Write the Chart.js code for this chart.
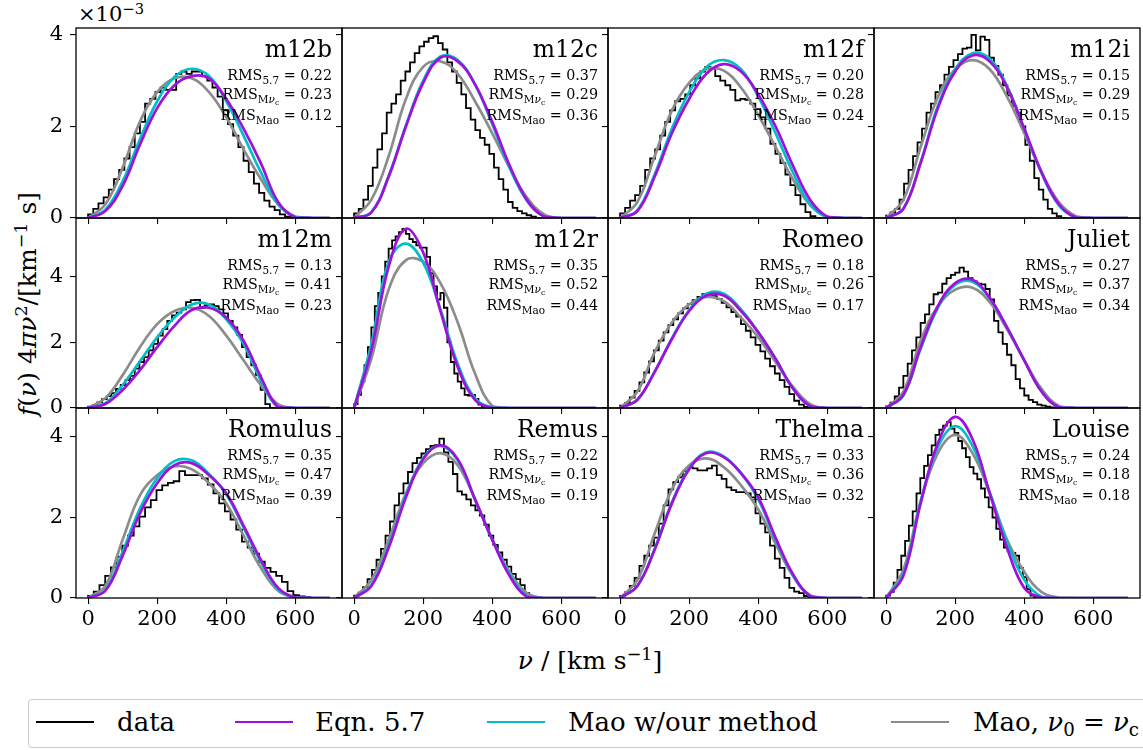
<!DOCTYPE html>
<html>
<head>
<meta charset="utf-8">
<title>velocity distributions</title>
<script src="https://cdn.jsdelivr.net/npm/chart.js@4.4.1/dist/chart.umd.min.js"></script>
<style>
  html, body { margin: 0; padding: 0; background: #fff; }
  body { width: 1143px; height: 750px; position: relative; overflow: hidden; font-family: 'DejaVu Serif', serif; color: #000; }
  canvas { position: absolute; }
  .nm { position: absolute; font-size: 23.5px; line-height: 23.5px; white-space: nowrap; }
  .rms { position: absolute; font-size: 14.3px; line-height: 18px; white-space: nowrap; text-align: right; }
  .sb { font-size: 10.5px; position: relative; top: 3.5px; }
  .ssb { font-size: 7.5px; position: relative; top: 2px; }
  sup { font-size: 70%; position: relative; top: -0.5em; vertical-align: baseline; line-height: 0; }
  sub { font-size: 70%; position: relative; top: 0.25em; vertical-align: baseline; line-height: 0; }
  #ylab { position: absolute; left: 27px; top: 304px; font-size: 25px; line-height: 1; white-space: nowrap; transform: translate(-50%, -50%) rotate(-90deg); }
  #xlab { position: absolute; left: 590px; top: 660px; font-size: 25px; line-height: 1; white-space: nowrap; transform: translate(-50%, -50%); }
  #offs { position: absolute; left: 78px; top: 4px; font-size: 21px; line-height: 21px; white-space: nowrap; }
  #leg { position: absolute; left: 28px; top: 699px; width: 1130px; height: 49px; border: 1px solid #cccccc; border-radius: 4px; box-sizing: border-box; }
  .lline { position: absolute; height: 3px; width: 58px; top: 721px; }
  .ltxt { position: absolute; top: 709px; font-size: 26px; line-height: 26px; white-space: nowrap; }
</style>
</head>
<body>
<div id="offs">×10<sup>−3</sup></div>
<div id="ylab"><i>f</i>(<i>ν</i>) 4<i>πν</i><sup>2</sup>/[km<sup>−1</sup> s]</div>
<div id="xlab"><i>ν</i> / [km s<sup>−1</sup>]</div>
<div id="leg"></div>
<script>
// --- data ---
const vGrid = [0, 50, 100, 150, 200, 250, 300, 350, 400, 450, 500, 550, 600, 650, 700];
const xTicks = [0, 200, 400, 600];
const yTicks = [0, 2, 4];
const rowYMax = [4.15, 5.78, 4.72];

const names = ['m12b', 'm12c', 'm12f', 'm12i', 'm12m', 'm12r', 'Romeo', 'Juliet', 'Romulus', 'Remus', 'Thelma', 'Louise'];
const rms57 = ['0.22', '0.37', '0.20', '0.15', '0.13', '0.35', '0.18', '0.27', '0.35', '0.22', '0.33', '0.24'];
const rmsMvc = ['0.23', '0.29', '0.28', '0.29', '0.41', '0.52', '0.26', '0.37', '0.47', '0.19', '0.36', '0.18'];
const rmsMao = ['0.12', '0.36', '0.24', '0.15', '0.23', '0.44', '0.17', '0.34', '0.39', '0.19', '0.32', '0.18'];

// histogram bin width (km/s) and heights (x 1e-3) for each halo
const binWidth = [15, 13.5, 14.5, 13, 13.5, 10, 14, 12.5, 16.5, 13, 14, 11];
const histData = [
  [0.02,0.08,0.2,0.32,0.45,0.62,0.85,1.05,1.3,1.55,1.85,2.1,2.5,2.6,2.75,2.85,2.8,2.8,3.15,3.2,3.15,3.2,3.2,3.1,3.0,2.85,2.65,2.35,2.05,1.8,1.55,1.25,1.0,0.75,0.55,0.38,0.25,0.17,0.08,0.03],
  [0.03,0.1,0.2,0.4,0.7,1.1,1.5,1.85,2.3,2.5,2.7,3.0,3.2,3.4,3.6,3.75,3.85,3.93,3.97,3.82,3.68,3.4,3.2,2.95,2.7,2.4,2.15,1.92,1.75,1.6,1.4,1.1,0.85,0.62,0.35,0.22,0.15,0.1,0.06,0.03],
  [0.02,0.1,0.22,0.38,0.5,0.7,1.05,1.3,1.5,1.8,2.1,2.35,2.55,2.6,2.7,2.9,3.05,3.2,3.3,3.28,3.1,3.0,2.9,2.8,2.57,2.6,2.58,2.5,2.38,2.2,1.95,1.62,1.4,1.2,0.95,0.72,0.5,0.3,0.13,0.04],
  [0.01,0.05,0.12,0.2,0.4,0.75,1.05,1.35,1.65,1.95,2.3,2.5,2.75,2.9,3.13,3.3,3.45,3.58,3.7,3.72,4.0,3.66,3.96,3.89,3.5,3.32,3.13,2.9,2.68,2.45,2.3,2.0,1.6,1.25,0.87,0.62,0.4,0.2,0.1,0.04],
  [0.01,0.04,0.08,0.17,0.27,0.36,0.45,0.58,0.7,0.85,0.98,1.2,1.4,1.55,1.75,1.95,2.2,2.4,2.65,2.82,2.9,3.0,3.22,3.28,3.29,3.05,3.12,3.15,3.1,3.0,2.88,2.65,2.45,2.22,1.85,1.55,1.3,1.0,0.55,0.12],
  [0.03,0.12,0.4,0.8,1.3,1.85,2.45,3.1,3.5,4.0,4.45,4.85,5.1,5.22,5.35,5.45,5.3,5.14,5.05,4.95,4.88,4.88,4.6,4.1,3.7,3.3,3.5,3.05,2.0,1.4,1.05,0.8,0.6,0.4,0.38,0.4,0.28,0.1,0.04,0.02],
  [0.02,0.07,0.15,0.32,0.52,0.78,1.08,1.42,1.75,2.05,2.3,2.52,2.7,2.88,3.03,3.16,3.28,3.38,3.46,3.46,3.4,3.32,3.2,3.06,2.92,2.78,2.55,2.35,2.15,1.92,1.72,1.5,1.27,1.05,0.85,0.64,0.42,0.22,0.1,0.03],
  [0.01,0.05,0.16,0.35,0.62,0.98,1.35,1.75,2.15,2.59,2.85,3.15,3.46,3.51,3.78,3.95,4.05,4.12,4.27,4.15,3.95,3.85,3.78,3.76,3.62,3.3,2.65,2.3,1.95,1.62,1.3,0.88,0.6,0.38,0.25,0.18,0.1,0.07,0.04,0.02],
  [0.01,0.05,0.16,0.32,0.55,0.76,1.02,1.3,1.55,1.78,2.02,2.25,2.43,2.68,2.8,2.86,2.9,3.15,3.05,3.05,3.05,2.97,2.82,2.6,2.35,2.15,1.95,1.7,1.4,1.25,1.1,0.9,0.75,0.65,0.55,0.4,0.17,0.07,0.04,0.02],
  [0.01,0.06,0.13,0.27,0.47,0.7,0.95,1.22,1.55,1.9,2.3,2.6,2.85,3.13,3.35,3.48,3.59,3.7,3.78,3.8,3.96,3.62,3.38,3.08,2.65,2.57,2.45,2.3,2.18,2.05,1.82,1.55,1.32,1.13,0.95,0.78,0.6,0.47,0.32,0.12],
  [0.01,0.05,0.14,0.3,0.5,0.8,1.05,1.3,1.5,1.85,2.3,2.7,2.88,3.0,3.15,3.25,3.22,3.17,3.17,3.22,3.29,3.05,2.96,2.75,2.68,2.63,2.63,2.6,2.5,2.1,1.85,1.63,1.3,0.98,0.75,0.5,0.25,0.16,0.12,0.05],
  [0.02,0.06,0.15,0.38,0.7,1.05,1.42,1.8,2.15,2.6,2.98,3.28,3.55,3.79,4.05,4.18,4.28,4.37,4.21,4.1,3.9,3.72,3.5,3.25,3.09,2.95,2.72,2.5,2.25,2.0,1.72,1.45,1.25,1.16,1.12,1.05,0.75,0.52,0.22,0.06]
];

// model curves sampled on vGrid (x 1e-3)
const eqn57 = [
  [0,0.15,0.7,1.6,2.4,2.9,3.1,3.05,2.6,1.95,1.2,0.35,0.01,0,0],
  [0,0.12,0.9,2.0,2.95,3.5,3.42,2.92,2.1,1.15,0.4,0.03,0,0,0],
  [0,0.15,0.9,1.85,2.6,3.15,3.36,3.2,2.7,2.0,1.15,0.4,0.03,0,0],
  [0,0.2,1.2,2.4,3.2,3.55,3.42,2.85,1.95,1.0,0.3,0.01,0,0,0],
  [0,0.12,0.55,1.15,1.85,2.5,2.98,3.05,2.75,2.05,0.95,0.03,0,0,0],
  [0,1.75,4.3,5.45,4.73,2.95,1.25,0.25,0,0,0,0,0,0,0],
  [0,0.25,1.1,2.1,2.95,3.42,3.42,2.95,2.3,1.5,0.6,0.06,0,0,0],
  [0,0.4,1.85,3.1,3.8,3.9,3.35,2.45,1.45,0.5,0.02,0,0,0,0],
  [0,0.18,1.05,2.1,2.85,3.3,3.35,3.05,2.6,1.8,0.95,0.25,0.01,0,0],
  [0,0.3,1.25,2.5,3.45,3.8,3.45,2.45,1.45,0.55,0.03,0,0,0,0],
  [0,0.3,1.2,2.35,3.2,3.6,3.5,3.1,2.5,1.5,0.6,0.05,0,0,0],
  [0,0.55,2.35,3.85,4.5,3.95,2.6,1.25,0.25,0.01,0,0,0,0,0]
];
const maoOurs = [
  [0,0.18,0.8,1.72,2.55,3.08,3.26,3.1,2.55,1.8,1.0,0.3,0.02,0,0],
  [0,0.13,0.92,2.02,3.0,3.53,3.45,2.92,2.05,1.1,0.38,0.03,0,0,0],
  [0,0.17,0.95,1.95,2.75,3.3,3.45,3.25,2.65,1.85,1.0,0.3,0.01,0,0],
  [0,0.2,1.22,2.45,3.25,3.6,3.48,2.88,1.95,0.98,0.28,0.01,0,0,0],
  [0,0.15,0.7,1.42,2.15,2.75,3.15,3.15,2.7,1.95,0.85,0.02,0,0,0],
  [0,1.95,4.45,5.0,4.42,3.0,1.35,0.3,0.01,0,0,0,0,0,0],
  [0,0.25,1.1,2.12,2.98,3.48,3.48,3.0,2.3,1.5,0.6,0.06,0,0,0],
  [0,0.38,1.8,3.05,3.75,3.84,3.33,2.45,1.45,0.5,0.02,0,0,0,0],
  [0,0.2,1.15,2.22,2.98,3.4,3.42,3.08,2.58,1.75,0.9,0.22,0.01,0,0],
  [0,0.32,1.3,2.55,3.48,3.78,3.42,2.45,1.45,0.6,0.05,0,0,0,0],
  [0,0.3,1.22,2.38,3.22,3.62,3.52,3.1,2.45,1.45,0.57,0.05,0,0,0],
  [0,0.6,2.4,3.75,4.27,3.78,2.62,1.4,0.45,0.03,0,0,0,0,0]
];
const maoVc = [
  [0,0.3,1.1,2.1,2.75,3.05,3.05,2.75,2.2,1.5,0.85,0.3,0.03,0,0],
  [0,0.4,1.35,2.6,3.3,3.42,3.15,2.55,1.85,1.1,0.45,0.08,0,0,0],
  [0,0.35,1.35,2.35,2.95,3.25,3.22,2.85,2.25,1.55,0.85,0.28,0.02,0,0],
  [0,0.4,1.55,2.65,3.25,3.45,3.25,2.65,1.85,1.0,0.35,0.04,0,0,0],
  [0,0.3,1.0,1.85,2.55,2.95,3.05,2.8,2.2,1.45,0.7,0.12,0,0,0],
  [0,1.5,3.6,4.5,4.45,3.8,2.6,1.05,0.06,0,0,0,0,0,0],
  [0,0.5,1.7,2.6,3.15,3.38,3.25,2.75,2.15,1.4,0.65,0.12,0,0,0],
  [0,0.5,2.05,3.1,3.6,3.66,3.22,2.4,1.45,0.58,0.06,0,0,0,0],
  [0,0.3,1.45,2.55,3.05,3.27,3.2,2.85,2.35,1.55,0.75,0.18,0.01,0,0],
  [0,0.45,1.45,2.6,3.35,3.6,3.3,2.45,1.45,0.65,0.12,0,0,0,0],
  [0,0.45,1.6,2.7,3.3,3.47,3.25,2.8,2.2,1.35,0.55,0.07,0,0,0],
  [0,0.7,2.4,3.6,4.05,3.6,2.6,1.45,0.65,0.15,0.01,0,0,0,0]
];

// --- look ---
const PURPLE = '#a010dc';
const CYAN = '#00bfc6';
const GRAY = '#8c8c8c';
const FONT = 'DejaVu Serif';

// --- layout (px) ---
const AX_LEFT = 76, COL_W = 266, ROW_H = 190;
const ROW_TOP = [28, 218, 408];
const PADL = 44, PADR = 6, PADT = 6, PADB = 44;

Chart.defaults.font.family = FONT;
Chart.defaults.color = '#000';

const frame = {
  id: 'frame',
  afterDatasetsDraw(chart) {
    const { ctx, chartArea: a } = chart;
    ctx.save();
    ctx.strokeStyle = '#000';
    ctx.lineWidth = 1.3;
    ctx.strokeRect(a.left, a.top, a.right - a.left, a.bottom - a.top);
    ctx.restore();
  }
};

function curve(vals, color) {
  return {
    data: vGrid.map((v, k) => ({ x: v, y: vals[k] })),
    borderColor: color,
    borderWidth: 2.7,
    tension: 0.4,
    pointRadius: 0,
    fill: false
  };
}

function histStep(heights, w) {
  // outline of a step histogram: up at first edge, across each bin, down at last edge
  const pts = [{ x: 0, y: 0 }];
  heights.forEach((h, k) => pts.push({ x: k * w, y: h }));
  pts.push({ x: heights.length * w, y: 0 });
  return {
    data: pts,
    stepped: 'after',
    borderColor: '#000',
    borderWidth: 1.8,
    pointRadius: 0,
    fill: false
  };
}

// fixed axis boxes so every panel gets the same plot area
function fixBox(s, size) {
  if (s.isHorizontal()) s.height = size; else s.width = size;
  s.paddingLeft = s.paddingRight = s.paddingTop = s.paddingBottom = 0;
}

function addText(cls, html, style) {
  const d = document.createElement('div');
  d.className = cls;
  d.innerHTML = html;
  Object.assign(d.style, style);
  document.body.appendChild(d);
}

names.forEach((name, i) => {
  const r = Math.floor(i / 4), c = i % 4;
  const left = AX_LEFT + COL_W * c, top = ROW_TOP[r];

  const cv = document.createElement('canvas');
  cv.width = COL_W + PADL + PADR;
  cv.height = ROW_H + PADT + PADB;
  cv.style.left = (left - PADL) + 'px';
  cv.style.top = (top - PADT) + 'px';
  document.body.appendChild(cv);

  const tickStyle = { drawOnChartArea: false, drawTicks: true, tickLength: 6, color: '#000', lineWidth: 1.1 };

  new Chart(cv, {
    type: 'line',
    data: {
      datasets: [
        curve(eqn57[i], PURPLE),
        curve(maoOurs[i], CYAN),
        curve(maoVc[i], GRAY),
        histStep(histData[i], binWidth[i])
      ]
    },
    options: {
      responsive: false,
      animation: false,
      devicePixelRatio: 1,
      layout: { padding: { top: PADT, right: PADR, left: 0, bottom: 0 } },
      plugins: { legend: { display: false }, tooltip: { enabled: false } },
      scales: {
        x: {
          type: 'linear', min: -35, max: 735,
          afterBuildTicks: s => { s.ticks = xTicks.map(v => ({ value: v })); },
          afterFit: s => fixBox(s, PADB),
          grid: tickStyle,
          border: { display: false },
          ticks: { display: r === 2, font: { size: 21 }, color: '#000', padding: 3, maxRotation: 0, autoSkip: false }
        },
        y: {
          type: 'linear', min: 0, max: rowYMax[r],
          afterBuildTicks: s => { s.ticks = yTicks.map(v => ({ value: v })); },
          afterFit: s => fixBox(s, PADL),
          grid: tickStyle,
          border: { display: false },
          ticks: { display: c === 0, font: { size: 21 }, color: '#000', padding: 7, autoSkip: false }
        }
      }
    },
    plugins: [frame]
  });

  const rightPx = (1143 - (left + COL_W - 10)) + 'px';
  addText('nm', name, { right: rightPx, top: (top + 9.5) + 'px' });
  addText('rms',
    'RMS<span class="sb">5.7</span> = ' + rms57[i] + '<br>' +
    'RMS<span class="sb">M<i>ν</i><span class="ssb">c</span></span> = ' + rmsMvc[i] + '<br>' +
    'RMS<span class="sb">Mao</span> = ' + rmsMao[i],
    { right: rightPx, top: (top + 38) + 'px' });
});

// legend
const legItems = [
  { color: '#000', lw: 1.8, x: 36, tx: 117, label: 'data' },
  { color: PURPLE, lw: 2.7, x: 235, tx: 315, label: 'Eqn. 5.7' },
  { color: CYAN, lw: 2.7, x: 487, tx: 568, label: 'Mao w/our method' },
  { color: GRAY, lw: 2.7, x: 891, tx: 973, label: 'Mao, <i>ν</i><sub>0</sub> = <i>ν</i><sub>c</sub>' }
];
legItems.forEach(it => {
  const ln = document.createElement('div');
  ln.className = 'lline';
  ln.style.left = it.x + 'px';
  ln.style.background = it.color;
  ln.style.height = it.lw + 'px';
  ln.style.top = (722 - it.lw / 2) + 'px';
  document.body.appendChild(ln);
  addText('ltxt', it.label, { left: it.tx + 'px' });
});
</script>
</body>
</html>
